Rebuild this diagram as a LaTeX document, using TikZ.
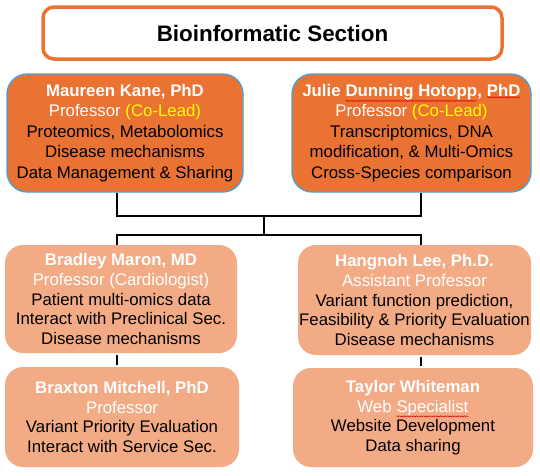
\documentclass[tikz,border=0pt]{standalone}
\usepackage{fontspec}
\setmainfont{Liberation Sans}
\usetikzlibrary{decorations.pathmorphing}
\definecolor{orangeD}{HTML}{EA7232}
\definecolor{orangeL}{HTML}{F2AB85}
\definecolor{blueB}{HTML}{45A2DA}
\definecolor{coLead}{HTML}{FFFF00}
\newcommand\squig[1]{\tikz[baseline=(w.base)]{\node[draw=none, fill=none, minimum width=0pt, minimum height=0pt,
    inner sep=0pt, outer sep=0pt, sharp corners, align=left](w){#1};
  \draw[draw=red!85!black, line width=0.45pt, sharp corners, decorate, decoration={snake, amplitude=0.6pt, segment length=2.4pt}]
  ([yshift=-0.8pt]w.south west) -- ([yshift=-0.8pt]w.south east);}}
\tikzset{
  boxtext/.style={align=center, inner sep=0pt, font=\fontsize{16.8}{20.4}\selectfont},
  titlebox/.style={draw=orangeD, line width=3.5pt, fill=white, rounded corners=11pt, inner sep=0pt,
    font=\fontsize{22.4}{26}\selectfont\bfseries},
  topbox/.style={boxtext, draw=blueB, line width=1.3pt, fill=orangeD, rounded corners=20pt},
  lowbox/.style={boxtext, fill=orangeL, rounded corners=18pt, font=\fontsize{16.8}{19.6}\selectfont},
  conn/.style={draw=black, line width=2.7pt}
}
\newcommand\wname[1]{{\color{white}\bfseries #1}}
\newcommand\wtext[1]{{\color{white}#1}}
\begin{document}
\begin{tikzpicture}[x=1pt,y=-1pt]
\useasboundingbox (0,0) rectangle (540,475);
\node[titlebox, minimum width=459pt, minimum height=52pt] (title) at (272.5,33) {Bioinformatic Section};
\node[topbox, minimum width=236pt, minimum height=118pt] (maureen) at (125,133)
  {\wname{Maureen Kane, PhD}\\ \wtext{Professor} {\color{coLead}(Co-Lead)}\\ Proteomics, Metabolomics\\ Disease mechanisms\\ Data Management \& Sharing};
\node[topbox, minimum width=239pt, minimum height=118pt] (julie) at (411.5,133)
  {\wname{Julie \squig{Dunning Hotopp}, \squig{PhD}}\\ \wtext{Professor} {\color{coLead}(Co-Lead)}\\ Transcriptomics, DNA\\ modification, \& Multi-Omics\\ Cross-Species comparison};
\node[lowbox, minimum width=232pt, minimum height=108pt] (bradley) at (121,299)
  {\wname{Bradley Maron, MD}\\ \wtext{Professor (Cardiologist)}\\ Patient multi-omics data\\ Interact with Preclinical Sec.\\ Disease mechanisms};
\node[lowbox, minimum width=233pt, minimum height=110pt] (hangnoh) at (414.5,300)
  {\wname{Hangnoh Lee, Ph.D.}\\ \wtext{Assistant Professor}\\ Variant function prediction,\\ Feasibility \& Priority Evaluation\\ Disease mechanisms};
\node[lowbox, minimum width=234pt, minimum height=100pt] (braxton) at (122,417)
  {\wname{Braxton Mitchell, PhD}\\ \wtext{Professor}\\ Variant Priority Evaluation\\ Interact with Service Sec.};
\node[lowbox, minimum width=240pt, minimum height=99pt] (taylor) at (413,417.5)
  {\wname{Taylor Whiteman}\\ \wtext{Web \squig{Specialist}}\\ Website Development\\ Data sharing};
\coordinate (lj) at (117,216);
\coordinate (rj) at (421,216);
\coordinate (cj) at (264,216);
\coordinate (cl) at (264,235);
\coordinate (ll) at (117,235);
\coordinate (rl) at (421,235);
\draw[conn] (maureen.south -| lj) -- (lj) -- (rj) -- (julie.south -| rj);
\draw[conn] (cj) -- (cl);
\draw[conn] (bradley.north -| ll) -- (ll) -- (rl) -- (hangnoh.north -| rl);
\draw[conn, shorten <=2pt, shorten >=2pt] (bradley.south -| ll) -- (braxton.north -| ll);
\draw[conn, shorten <=2pt, shorten >=2pt] (hangnoh.south -| rl) -- (taylor.north -| rl);
\end{tikzpicture}
\end{document}
